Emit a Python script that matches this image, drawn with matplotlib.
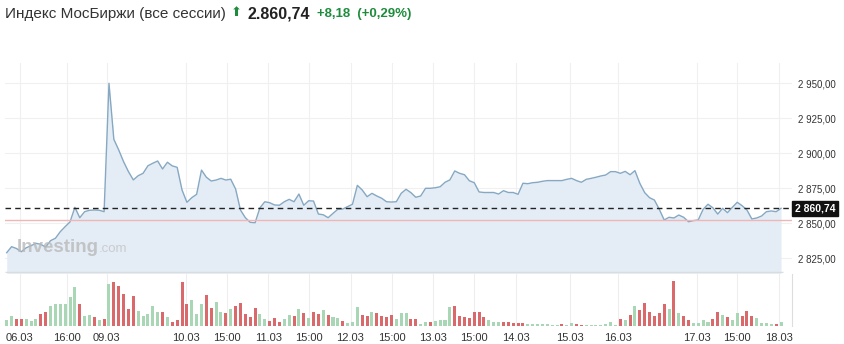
import numpy as np
import matplotlib
matplotlib.use("Agg")
import matplotlib.pyplot as plt

plt.rcParams['font.family'] = ['Liberation Sans', 'DejaVu Sans']

# --- data ---
price = [
    2829, 2833.3, 2832, 2829.7, 2832.5, 2834, 2835.7, 2835, 2833, 2837.6,
    2839.3, 2844, 2847.6, 2851, 2861.4, 2854, 2858.3, 2859.3, 2859.5, 2859.3,
    2858.3, 2950, 2910, 2902.4, 2894, 2886.9, 2881, 2884, 2885.7, 2891.1,
    2892.9, 2894.5, 2888.8, 2893.6, 2891, 2890, 2873.8, 2865, 2868.3, 2870.7,
    2888, 2882.9, 2880.2, 2880.9, 2882.1, 2880.9, 2881.5, 2874.5, 2859.5, 2854,
    2850.7, 2850.4, 2861.1, 2865.4, 2864.7, 2863.1, 2862.9, 2865.4, 2867.1, 2865.4,
    2870.9, 2862.9, 2866.1, 2865.9, 2856.6, 2856.1, 2854, 2857.1, 2860, 2860.2,
    2861.9, 2863.6, 2877.1, 2873.8, 2869, 2871.4, 2869.5, 2867.9, 2865.4, 2865.2,
    2865.4, 2871.4, 2874.3, 2871.9, 2868.6, 2869.5, 2875, 2875, 2875.4, 2876.1,
    2879.3, 2881, 2887.4, 2885.7, 2884.7, 2880.4, 2879, 2872.4, 2872, 2872,
    2872, 2870.9, 2873.3, 2872, 2872, 2870.7, 2878.6, 2878.3, 2879, 2879.3,
    2880, 2880.5, 2880.5, 2880.5, 2880.5, 2881.4, 2882.1, 2880.5, 2879.3, 2881.4,
    2882.1, 2882.9, 2883.8, 2884.5, 2886.9, 2886.9, 2885.7, 2887.1, 2884.7, 2887.6,
    2878.6, 2871.9, 2868.3, 2866.6, 2860, 2852.4, 2854.3, 2853.8, 2855.9, 2854.3,
    2851.1, 2851.9, 2852.4, 2860, 2863.6, 2861.1, 2856.6, 2860.7, 2857.6, 2861.4,
    2865, 2862.6, 2859.5, 2853.1, 2853.8, 2855.2, 2858.3, 2858.8, 2858.3, 2860.74,
]

volume = [
    16, 30, 21, 19, 19, 14, 19, 34, 40, 59, 64, 66, 66, 86, 117, 66, 30, 32, 25, 16,
    21, 124, 132, 119, 95, 50, 90, 45, 29, 35, 59, 42, 42, 27, 11, 18, 130, 64, 77, 34,
    66, 92, 54, 72, 40, 37, 50, 59, 69, 35, 27, 54, 35, 19,
    14, 24, 12, 19, 33, 28, 50, 38, 24, 41, 35, 48, 31, 25, 24, 14, 9, 12, 55, 31,
    30, 42, 38, 28, 27, 31, 21, 38, 38, 21, 19, 6, 11, 11, 15, 17, 18, 55, 60, 29,
    27, 22, 40, 42, 26, 18, 12, 11, 12, 12, 8, 9, 9, 5, 5,
    5, 5, 5, 3, 3, 5, 2, 8, 5, 3, 3, 3, 3, 3, 5, 10, 1, 19, 16, 33,
    59, 48, 69, 40, 30, 37, 66, 50, 134, 37, 28, 18, 8, 8, 16, 11, 21, 40, 33, 26,
    18, 37, 29, 43, 29, 23, 9, 8, 6, 6, 11,
]

# 1 = up (green), 0 = down (red)
vol_up = [
    1, 1, 0, 0, 1, 1, 1, 0, 0, 1, 1, 1, 1, 1, 1, 0, 1, 1, 0, 1,
    0, 1, 0, 0, 0, 0, 0, 1, 1, 1, 1, 1, 0, 1, 0, 0, 0, 0, 1, 1,
    1, 0, 0, 1, 1, 0, 1, 0, 0, 0, 0, 0, 1, 1,
    0, 0, 0, 1, 1, 0, 1, 0, 1, 0, 0, 1, 0, 1, 1, 0, 1, 1, 1, 0,
    0, 1, 0, 0, 0, 0, 1, 1, 1, 0, 0, 1, 1, 0, 1, 1, 1, 1, 0, 0,
    0, 0, 0, 0, 0, 1, 1, 1, 0, 0, 0, 0, 0, 1, 1,
    1, 1, 1, 1, 1, 0, 1, 1, 0, 0, 1, 1, 1, 1, 1, 1, 1, 0, 1, 0,
    1, 0, 0, 0, 0, 0, 0, 1, 0, 1, 0, 0, 1, 1, 1, 1, 0, 0, 1, 0,
    1, 1, 0, 0, 0, 1, 1, 1, 1, 0, 1,
]

tick_pos = [2.7, 12.3, 20.5, 36.8, 45.2, 53.7, 62.1, 70.6, 79.1, 87.6,
            96.0, 104.5, 115.7, 125.6, 141.7, 150.0, 158.5]
tick_labels = ['06.03', '16:00', '09.03', '10.03', '15:00', '11.03', '15:00',
               '12.03', '15:00', '13.03', '15:00', '14.03', '15.03', '16.03',
               '17.03', '15:00', '18.03']

price_ticks = [2825, 2850, 2875, 2900, 2925, 2950]
last_price = 2860.74
prev_close = 2852.56

W, H = 844, 344
fig = plt.figure(figsize=(W / 100, H / 100), dpi=100)
fig.patch.set_facecolor('white')


def px_axes(x0, y0, x1, y1):
    # pixel box (top-left origin) -> figure axes
    return fig.add_axes([x0 / W, 1 - y1 / H, (x1 - x0) / W, (y1 - y0) / H])


ax = px_axes(5, 63, 792, 273)
axv = px_axes(5, 274, 792, 325.7)

x = np.arange(len(price))
xlim = (-0.35, 161.25)

# price panel
ax.fill_between(x, price, 2800, color='#e4edf6', lw=0)
ax.plot(x, price, color='#86a8c2', lw=1.0)
ax.axhline(prev_close, color='#f0b5b5', lw=1.0)
ax.axhline(last_price, color='#222222', lw=1.0, ls=(0, (4, 3)))
ax.plot([xlim[0], x[-1] + 0.3], [2814.8, 2814.8], color='#dcdcdc', lw=2.5,
        solid_capstyle='butt')
ax.set_xlim(*xlim)
ax.set_ylim(2814.5, 2964.5)
ax.set_yticks(price_ticks)
ax.set_yticklabels([f"{v:,.2f}".replace(',', ' ').replace('.', ',') for v in price_ticks])
ax.yaxis.tick_right()
ax.tick_params(axis='y', length=0, pad=4, labelsize=7, labelcolor='#333333')
ax.set_xticks(tick_pos)
ax.tick_params(axis='x', length=0, labelbottom=False)
ax.grid(True, color='#f0f0f0', lw=0.8)
ax.set_axisbelow(True)
for s in ax.spines.values():
    s.set_visible(False)

ax.annotate('2 860,74', xy=(1, last_price), xycoords=('axes fraction', 'data'),
            xytext=(2, 0), textcoords='offset points', ha='left', va='center',
            fontsize=7.5, fontweight='bold', color='white',
            bbox=dict(boxstyle='square,pad=0.25', fc='#111111', ec='#111111'))

# watermark
ax.text(2.1, 2832.4, 'Investing', fontsize=13.5, fontweight='bold', color='#b9b9b9',
        alpha=0.8, ha='left', va='center')
ax.text(18.8, 2831.8, '.com', fontsize=9.5, color='#c4c4c4', alpha=0.8,
        ha='left', va='center')

# volume panel
colors = ['#a9d6b4' if u else '#d9696b' for u in vol_up]
axv.bar(np.arange(len(volume)), volume, width=0.62, color=colors, lw=0)
axv.set_xlim(*xlim)
axv.set_ylim(0, 155)
axv.set_yticks([])
axv.set_xticks(tick_pos)
axv.set_xticklabels(tick_labels)
axv.tick_params(axis='x', length=0, pad=5, labelsize=8, labelcolor='#333333')
axv.grid(True, axis='x', color='#eeeeee', lw=0.8)
axv.set_axisbelow(True)
for name, s in axv.spines.items():
    s.set_visible(name == 'right')
axv.spines['right'].set_color('#dddddd')

# header
fig.text(5 / W, 1 - 14 / H, 'Индекс МосБиржи (все сессии)', fontsize=11,
         color='#333333', ha='left', va='center')
fig.text(231 / W, 1 - 13 / H, '⬆', fontsize=9.5, color='#1e8c3c',
         ha='left', va='center')
fig.text(248 / W, 1 - 14 / H, '2.860,74', fontsize=11.5, fontweight='bold',
         color='#222222', ha='left', va='center')
fig.text(317 / W, 1 - 14 / H, '+8,18  (+0,29%)', fontsize=9.5, fontweight='bold',
         color='#1e8c3c', ha='left', va='center')

fig.savefig('out.png', dpi=100, facecolor='white')
